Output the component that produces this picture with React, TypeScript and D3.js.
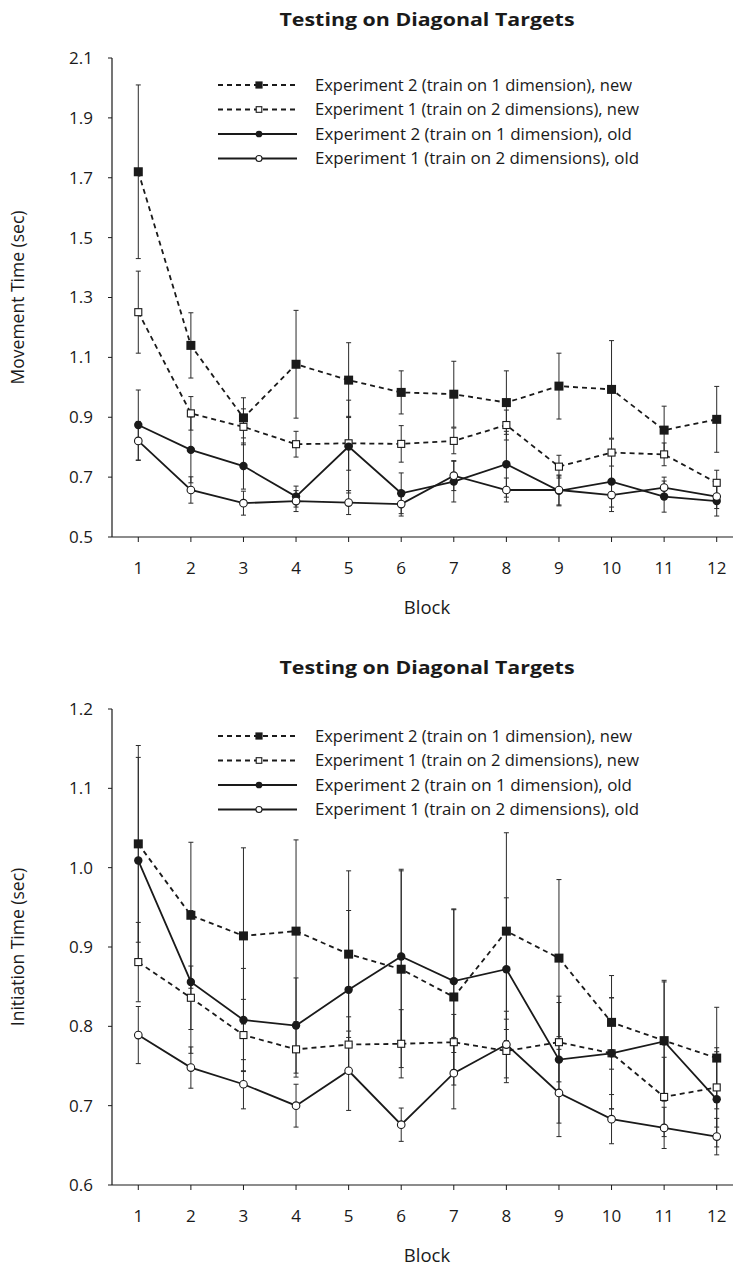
import React from 'react';
import * as d3 from 'd3';

// ---- data ----
const blocks = [1, 2, 3, 4, 5, 6, 7, 8, 9, 10, 11, 12];

const legendLabels = [
  'Experiment 2 (train on 1 dimension), new',
  'Experiment 1 (train on 2 dimensions), new',
  'Experiment 2 (train on 1 dimension), old',
  'Experiment 1 (train on 2 dimensions), old',
];

// movement time (sec)
const mtExp2New = [1.72, 1.14, 0.898, 1.077, 1.024, 0.983, 0.977, 0.949, 1.004, 0.993, 0.857, 0.893];
const mtExp2NewErr = [0.29, 0.109, 0.067, 0.18, 0.125, 0.072, 0.11, 0.106, 0.11, 0.163, 0.08, 0.11];
const mtExp1New = [1.251, 0.913, 0.868, 0.81, 0.813, 0.811, 0.821, 0.874, 0.735, 0.782, 0.776, 0.681];
const mtExp1NewErr = [0.137, 0.056, 0.06, 0.043, 0.09, 0.061, 0.043, 0.05, 0.038, 0.045, 0.038, 0.042];
const mtExp2Old = [0.874, 0.791, 0.737, 0.635, 0.802, 0.646, 0.685, 0.743, 0.654, 0.685, 0.635, 0.62];
const mtExp2OldErr = [0.117, 0.11, 0.077, 0.035, 0.155, 0.068, 0.068, 0.11, 0.05, 0.1, 0.052, 0.05];
const mtExp1Old = [0.821, 0.657, 0.613, 0.62, 0.615, 0.61, 0.705, 0.657, 0.657, 0.64, 0.665, 0.635];
const mtExp1OldErr = [0.065, 0.044, 0.04, 0.035, 0.04, 0.04, 0.05, 0.04, 0.05, 0.04, 0.035, 0.04];
const mtTicks = [0.5, 0.7, 0.9, 1.1, 1.3, 1.5, 1.7, 1.9, 2.1];

// initiation time (sec)
const itExp2New = [1.03, 0.94, 0.914, 0.92, 0.891, 0.872, 0.837, 0.92, 0.886, 0.805, 0.782, 0.76];
const itExp2NewErr = [0.124, 0.092, 0.111, 0.115, 0.105, 0.124, 0.111, 0.124, 0.099, 0.059, 0.076, 0.064];
const itExp1New = [0.881, 0.836, 0.789, 0.771, 0.777, 0.778, 0.78, 0.769, 0.78, 0.766, 0.711, 0.723];
const itExp1NewErr = [0.05, 0.04, 0.045, 0.035, 0.035, 0.043, 0.035, 0.04, 0.05, 0.07, 0.05, 0.05];
const itExp2Old = [1.009, 0.856, 0.808, 0.801, 0.846, 0.888, 0.857, 0.872, 0.758, 0.766, 0.781, 0.708];
const itExp2OldErr = [0.13, 0.09, 0.065, 0.06, 0.1, 0.11, 0.09, 0.09, 0.08, 0.07, 0.075, 0.06];
const itExp1Old = [0.789, 0.748, 0.727, 0.7, 0.744, 0.676, 0.741, 0.777, 0.716, 0.683, 0.672, 0.661];
const itExp1OldErr = [0.036, 0.026, 0.031, 0.027, 0.05, 0.021, 0.045, 0.042, 0.055, 0.031, 0.026, 0.023];
const itTicks = [0.6, 0.7, 0.8, 0.9, 1.0, 1.1, 1.2];

const FONT = '"Open Sans", "Noto Sans", sans-serif';
const INK = '#1a1a1a';

type Kind = 'fsq' | 'osq' | 'fci' | 'oci';
const kinds: Kind[] = ['fsq', 'osq', 'fci', 'oci'];
const dashed = [true, true, false, false];

const Marker = ({ kind, x, y, s = 1 }: { kind: Kind; x: number; y: number; s?: number }) => {
  if (kind === 'fsq') {
    const w = 9 * s;
    return <rect x={x - w / 2} y={y - w / 2} width={w} height={w} fill={INK} />;
  }
  if (kind === 'osq') {
    const w = 7 * s;
    return <rect x={x - w / 2} y={y - w / 2} width={w} height={w} fill="#fff" stroke={INK} strokeWidth={1.1} />;
  }
  if (kind === 'fci') return <circle cx={x} cy={y} r={4.2 * s} fill={INK} />;
  return <circle cx={x} cy={y} r={3.8 * s} fill="#fff" stroke={INK} strokeWidth={1.1} />;
};

type PanelProps = {
  top: number;
  y0: number;
  y1: number;
  ticks: number[];
  fmt: (v: number) => string;
  yLabel: string;
  series: number[][];
  errs: number[][];
};

const Panel = ({ top, y0, y1, ticks, fmt, yLabel, series, errs }: PanelProps) => {
  const x = d3.scaleLinear().domain([0.5, 12.5]).range([112, 743]);
  const y = d3.scaleLinear().domain([ticks[0], ticks[ticks.length - 1]]).range([y1, y0]);
  const line = d3.line<number>().x((_, i) => x(blocks[i])).y(d => y(d));
  const axisY = y(ticks[0]);

  return (
    <g>
      <text x={427} y={top} dy="0.35em" textAnchor="middle" fontFamily={FONT} fontWeight={700} fontSize={18}
        textLength={295} lengthAdjust="spacingAndGlyphs" fill={INK}>
        Testing on Diagonal Targets
      </text>

      {/* axes */}
      <line x1={112} x2={112} y1={y0} y2={axisY} stroke={INK} strokeWidth={1.2} />
      <line x1={112} x2={733} y1={axisY} y2={axisY} stroke={INK} strokeWidth={1.2} />
      {ticks.map(t => (
        <g key={t}>
          <line x1={108} x2={112} y1={y(t)} y2={y(t)} stroke={INK} strokeWidth={1} />
          <text x={93} y={y(t)} dy="0.35em" textAnchor="end" fontFamily={FONT} fontSize={17} fill={INK}>
            {fmt(t)}
          </text>
        </g>
      ))}
      {blocks.map(b => (
        <g key={b}>
          <line x1={x(b)} x2={x(b)} y1={axisY} y2={axisY + 5} stroke={INK} strokeWidth={1} />
          <text x={x(b)} y={axisY + 31} dy="0.35em" textAnchor="middle" fontFamily={FONT} fontSize={17} fill={INK}>
            {b}
          </text>
        </g>
      ))}
      <text x={427} y={axisY + 71} dy="0.35em" textAnchor="middle" fontFamily={FONT} fontSize={18.5} fill={INK}>
        Block
      </text>
      <text transform={`translate(18,${(y0 + axisY) / 2}) rotate(-90)`} dy="0.35em" textAnchor="middle"
        fontFamily={FONT} fontSize={17.5} fill={INK}>
        {yLabel}
      </text>

      {/* error bars */}
      {series.map((s, si) =>
        s.map((v, i) => {
          const cx = x(blocks[i]);
          const hi = y(v + errs[si][i]);
          const lo = y(v - errs[si][i]);
          return (
            <g key={`e${si}-${i}`} stroke="#2a2a2a" strokeWidth={1}>
              <line x1={cx} x2={cx} y1={hi} y2={lo} />
              <line x1={cx - 2.5} x2={cx + 2.5} y1={hi} y2={hi} />
              <line x1={cx - 2.5} x2={cx + 2.5} y1={lo} y2={lo} />
            </g>
          );
        })
      )}

      {/* lines */}
      {series.map((s, si) => (
        <path key={`l${si}`} d={line(s) ?? ''} fill="none" stroke={INK} strokeWidth={1.8}
          strokeDasharray={dashed[si] ? '5,4' : undefined} />
      ))}

      {/* markers */}
      {series.map((s, si) =>
        s.map((v, i) => <Marker key={`m${si}-${i}`} kind={kinds[si]} x={x(blocks[i])} y={y(v)} />)
      )}

      {/* legend */}
      {legendLabels.map((lab, li) => {
        const ly = y0 + 27 + li * 24.5;
        return (
          <g key={lab}>
            <line x1={218} x2={297} y1={ly} y2={ly} stroke={INK} strokeWidth={1.8}
              strokeDasharray={dashed[li] ? '5,4' : undefined} />
            <Marker kind={kinds[li]} x={259} y={ly} s={0.8} />
            <text x={315} y={ly} dy="0.35em" fontFamily={FONT} fontSize={17} fill={INK}
              textLength={li % 2 === 0 ? 317 : 324} lengthAdjust="spacingAndGlyphs">
              {lab}
            </text>
          </g>
        );
      })}
    </g>
  );
};

export default function App() {
  return (
    <div>
      <style>{'body{margin:0}'}</style>
      <svg width={733} height={1267} style={{ display: 'block', background: '#fff' }}>
        <Panel top={20} y0={58} y1={537} ticks={mtTicks} fmt={d3.format('.1f')}
          yLabel="Movement Time (sec)"
          series={[mtExp2New, mtExp1New, mtExp2Old, mtExp1Old]}
          errs={[mtExp2NewErr, mtExp1NewErr, mtExp2OldErr, mtExp1OldErr]} />
        <Panel top={668} y0={709} y1={1185} ticks={itTicks} fmt={d3.format('.1f')}
          yLabel="Initiation Time (sec)"
          series={[itExp2New, itExp1New, itExp2Old, itExp1Old]}
          errs={[itExp2NewErr, itExp1NewErr, itExp2OldErr, itExp1OldErr]} />
      </svg>
    </div>
  );
}
